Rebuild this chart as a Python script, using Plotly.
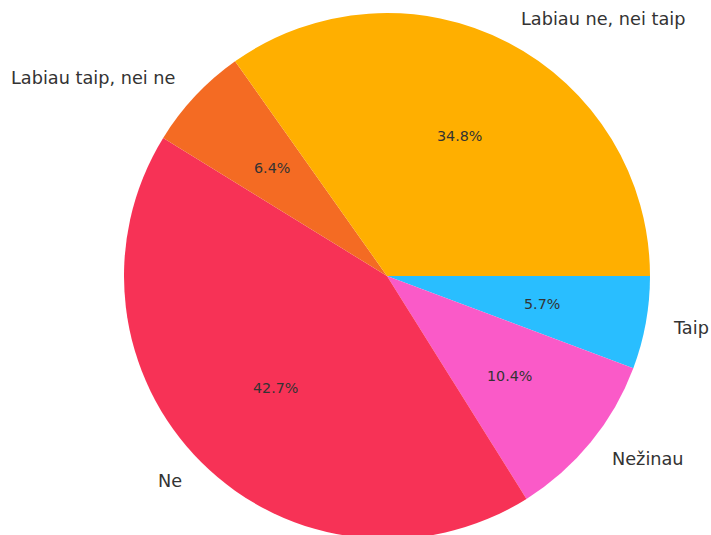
import math
import plotly.graph_objects as go

# slices listed clockwise from 3 o'clock
labels = ["Taip", "Nežinau", "Ne", "Labiau taip, nei ne", "Labiau ne, nei taip"]
values = [5.7, 10.4, 42.7, 6.4, 34.8]
colors = ["#29BEFF", "#FA5AC8", "#F73256", "#F46B23", "#FFAF00"]

W, H = 711, 543
ml, mr, mt, mb = 0, 0, 13, 4
dom_x = [0.1224, 0.9662]
dom_y = [0.0, 1.0]

fig = go.Figure(go.Pie(
    labels=labels, values=values, sort=False,
    direction="clockwise", rotation=90,
    marker=dict(colors=colors, line=dict(width=0)),
    textinfo="none", hoverinfo="label+percent",
    domain=dict(x=dom_x, y=dom_y), showlegend=False,
))

pw, ph = W - ml - mr, H - mt - mb
cx = (dom_x[0] + dom_x[1]) / 2 * pw
cy = (dom_y[0] + dom_y[1]) / 2 * ph
R = min((dom_x[1] - dom_x[0]) * pw, (dom_y[1] - dom_y[0]) * ph) / 2

annotations = []
total = sum(values)
start = 0.0
for lab, v in zip(labels, values):
    mid = -(start + v / 2) / total * 2 * math.pi
    start += v
    c, s = math.cos(mid), math.sin(mid)
    lx, ly = cx + 1.1 * R * c, cy + 1.1 * R * s
    annotations.append(dict(
        x=lx / pw, y=ly / ph, xref="paper", yref="paper",
        text=lab, showarrow=False, borderpad=0,
        xanchor="left" if c > 0 else "right", yanchor="middle",
        font=dict(family="DejaVu Sans", size=17.7, color="#333333"),
    ))
    px_, py_ = cx + 0.6 * R * c, cy + 0.6 * R * s
    annotations.append(dict(
        x=px_ / pw, y=py_ / ph, xref="paper", yref="paper",
        text=f"{v:.1f}%", showarrow=False,
        xanchor="center", yanchor="middle",
        font=dict(family="DejaVu Sans", size=14.3, color="#333333"),
    ))

fig.update_layout(
    width=W, height=H,
    margin=dict(l=ml, r=mr, t=mt, b=mb),
    paper_bgcolor="white", plot_bgcolor="white",
    annotations=annotations,
)

fig.write_html(
    "out.html",
    config={"displayModeBar": False},
    post_script="document.body.style.margin='0';document.body.style.overflow='hidden';",
)
